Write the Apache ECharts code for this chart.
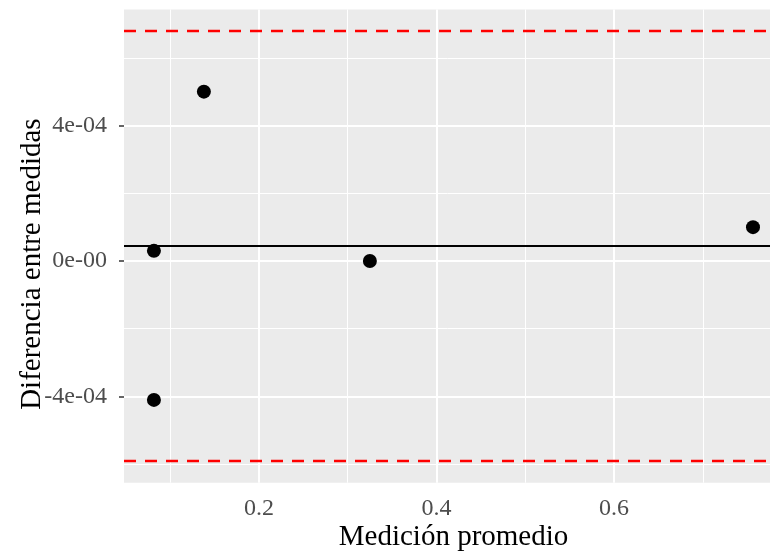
<!DOCTYPE html>
<html>
<head>
<meta charset="utf-8">
<script src="https://cdn.jsdelivr.net/npm/echarts@6/dist/echarts.min.js"></script>
<style>html,body{margin:0;padding:0;background:#fff}#c{width:770px;height:554px}</style>
</head>
<body>
<div id="c"></div>
<script>
// Data (Bland-Altman plot)
var meanMeasurement = [0.0817, 0.138, 0.0817, 0.325, 0.7566];
var diffMeasurement = [3.0e-5, 5.0e-4, -4.1e-4, 0, 1.0e-4];
var meanDiff = 4.4e-5;
var upperLoA = 6.79e-4;
var lowerLoA = -5.91e-4;

var xMajorTicks = [0.2, 0.4, 0.6];
var xMinorTicks = [0.1, 0.3, 0.5, 0.7];
var xTickLabels = ['0.2', '0.4', '0.6'];
var yMajorTicks = [-4e-4, 0, 4e-4];
var yMinorTicks = [-6e-4, -2e-4, 2e-4, 6e-4];
var yTickLabels = ['-4e-04', '0e-00', '4e-04'];

var xRange = [0.048, 0.7904];
var yRange = [-6.545e-4, 7.425e-4];

var FONT = '"Liberation Serif", "Times New Roman", serif';

function lookup(ticks, labels, v) {
  for (var i = 0; i < ticks.length; i++) {
    if (Math.abs(ticks[i] - v) < 1e-9) return labels[i];
  }
  return '';
}

var gridLines = [];
xMinorTicks.forEach(function (v) { gridLines.push({ xAxis: v, lineStyle: { color: '#fff', width: 1, type: 'solid' } }); });
yMinorTicks.forEach(function (v) { gridLines.push({ yAxis: v, lineStyle: { color: '#fff', width: 1, type: 'solid' } }); });
xMajorTicks.forEach(function (v) { gridLines.push({ xAxis: v, lineStyle: { color: '#fff', width: 2, type: 'solid' } }); });
yMajorTicks.forEach(function (v) { gridLines.push({ yAxis: v, lineStyle: { color: '#fff', width: 2, type: 'solid' } }); });

var chart = echarts.init(document.getElementById('c'), null, { renderer: 'canvas' });
chart.setOption({
  animation: false,
  backgroundColor: '#fff',
  grid: {
    left: 124, top: 9.5, right: -13, bottom: 71.3,
    containLabel: false, outerBoundsMode: 'none',
    show: true, backgroundColor: '#EBEBEB', borderWidth: 0
  },
  xAxis: {
    type: 'value', min: xRange[0], max: xRange[1],
    name: 'Medición promedio', nameLocation: 'middle', nameGap: 40, nameMoveOverlap: false,
    nameTextStyle: { fontFamily: FONT, fontSize: 29, color: '#000' },
    axisLine: { show: false },
    axisTick: { show: true, length: 5, lineStyle: { color: '#333', width: 1.5 }, customValues: xMajorTicks },
    axisLabel: {
      fontFamily: FONT, fontSize: 24, color: '#4D4D4D', margin: 14,
      customValues: xMajorTicks,
      formatter: function (v) { return lookup(xMajorTicks, xTickLabels, v); }
    },
    splitLine: { show: false }
  },
  yAxis: {
    type: 'value', min: yRange[0], max: yRange[1],
    name: 'Diferencia entre medidas', nameLocation: 'middle', nameGap: 77, nameRotate: 90, nameMoveOverlap: false,
    nameTextStyle: { fontFamily: FONT, fontSize: 29, color: '#000', padding: [0, 36, 0, 0] },
    axisLine: { show: false },
    axisTick: { show: true, length: 5, lineStyle: { color: '#333', width: 1.5 }, customValues: yMajorTicks },
    axisLabel: {
      fontFamily: FONT, fontSize: 24, color: '#4D4D4D', margin: 17,
      customValues: yMajorTicks,
      formatter: function (v) { return lookup(yMajorTicks, yTickLabels, v); }
    },
    splitLine: { show: false }
  },
  series: [
    {
      type: 'line', data: [], z: 1, silent: true,
      markLine: { z: 1, silent: true, precision: 12, symbol: ['none', 'none'], label: { show: false }, emphasis: { disabled: true }, data: gridLines }
    },
    {
      type: 'line', data: [], z: 2, silent: true,
      markLine: {
        z: 2, silent: true, precision: 12, symbol: ['none', 'none'], label: { show: false }, emphasis: { disabled: true },
        data: [
          { yAxis: meanDiff, lineStyle: { color: '#000', width: 2.2, type: 'solid' } },
          { yAxis: upperLoA, lineStyle: { color: '#FF0000', width: 2.4, type: [12, 9] } },
          { yAxis: lowerLoA, lineStyle: { color: '#FF0000', width: 2.4, type: [12, 9] } }
        ]
      }
    },
    {
      type: 'scatter', z: 3, symbol: 'circle', symbolSize: 14,
      itemStyle: { color: '#000', opacity: 1 },
      data: meanMeasurement.map(function (x, i) { return [x, diffMeasurement[i]]; })
    }
  ]
});
</script>
</body>
</html>
